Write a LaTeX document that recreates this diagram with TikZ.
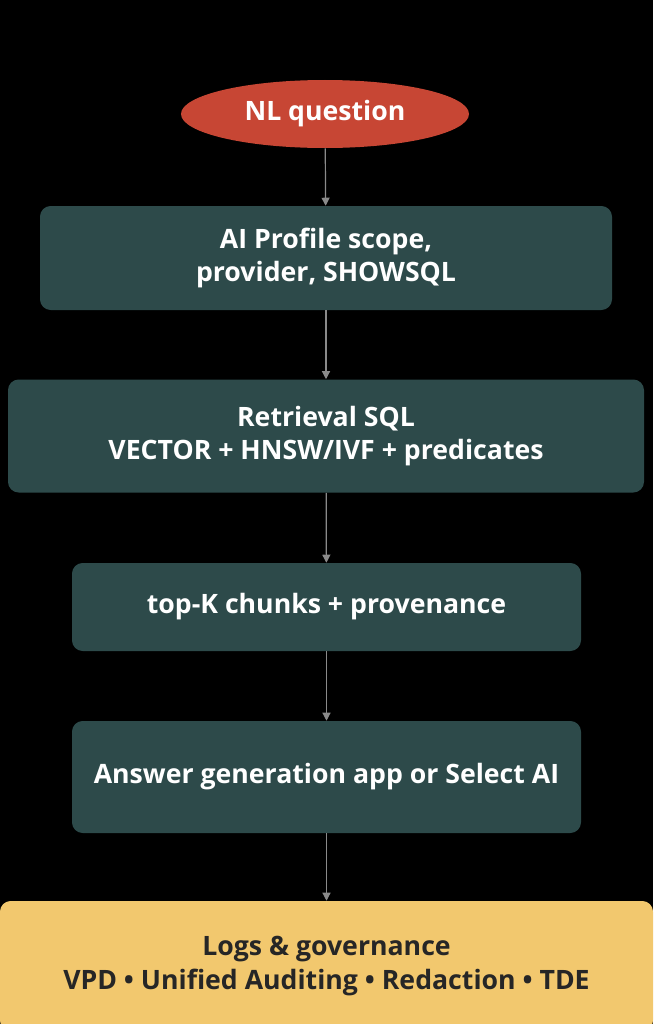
\documentclass[tikz,border=0pt]{standalone}
\usepackage{fontspec}
\setmainfont{Open Sans}
\usetikzlibrary{shapes.geometric,arrows.meta}
\definecolor{bgblack}{HTML}{000000}
\definecolor{qred}{HTML}{C74634}
\definecolor{stepteal}{HTML}{2D4A4A}
\definecolor{logsand}{HTML}{F2C86E}
\definecolor{arrowgray}{HTML}{8A8A8A}
\tikzset{
  stepfont/.style={font=\fontsize{20}{25}\selectfont\bfseries},
  stepbox/.style={draw=none,fill=stepteal,rounded corners=8pt,text=white,align=center,stepfont},
  flow/.style={draw=arrowgray,line width=0.9pt,-{Triangle[length=6pt,width=6pt]}}
}
\begin{document}
\begin{tikzpicture}[x=0.75pt,y=-0.75pt]
	\fill[bgblack] (0,0) rectangle (653,1024);
	\useasboundingbox (0,0) rectangle (653,1024);

	\node[ellipse,fill=qred,minimum width=288*0.75pt,minimum height=68*0.75pt,inner sep=0pt,text=white,stepfont] (q) at (325,114) {NL question};
	\node[stepbox,minimum width=572*0.75pt,minimum height=104*0.75pt] (p) at (326,258) {AI Profile scope,\\provider, SHOWSQL};
	\node[stepbox,minimum width=636*0.75pt,minimum height=113*0.75pt] (r) at (326,436) {Retrieval SQL\\VECTOR + HNSW/IVF + predicates};
	\node[stepbox,minimum width=509*0.75pt,minimum height=88*0.75pt] (k) at (326.5,607) {top-K chunks + provenance};
	\node[stepbox,minimum width=509*0.75pt,minimum height=112*0.75pt] (a) at (326.5,777) {Answer generation app or Select AI};
	\node[stepbox,fill=logsand,text=black!85,minimum width=653*0.75pt,minimum height=130*0.75pt] (l) at (326.5,966) {Logs \& governance\\VPD • Unified Auditing • Redaction • TDE};

	\draw[flow] (q) -- (p);
	\draw[flow] (p) -- (r);
	\draw[flow] (r) -- (k);
	\draw[flow] (k) -- (a);
	\draw[flow] (a) -- (l);
\end{tikzpicture}
\end{document}
